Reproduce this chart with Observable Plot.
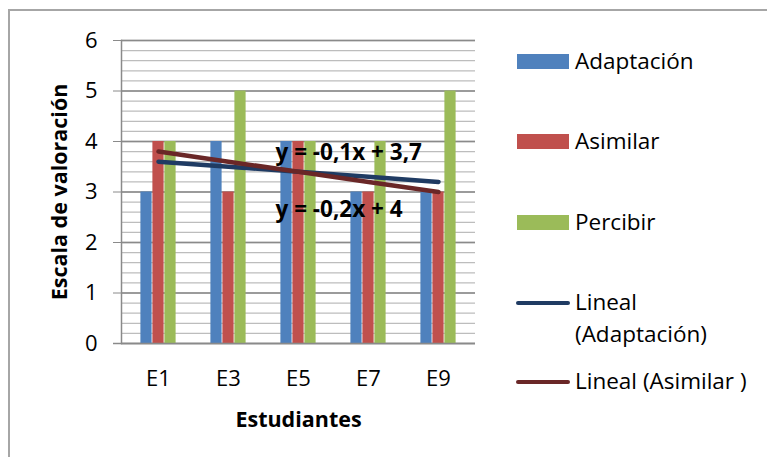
<!DOCTYPE html>
<html>
<head>
<meta charset="utf-8">
<script src="https://cdn.jsdelivr.net/npm/d3@7"></script>
<script src="https://cdn.jsdelivr.net/npm/@observablehq/plot@0.6"></script>
<style>
  html, body { margin: 0; padding: 0; background: #fff; }
  #wrap { position: relative; width: 767px; height: 457px; overflow: hidden; font-family: "Open Sans", sans-serif; }
  #frame { position: absolute; left: 8px; top: 9px; width: 900px; height: 600px; border-left: 2px solid #a6a6a6; border-top: 2px solid #a6a6a6; }
  #chart { position: absolute; left: 0; top: 0; }
  .leg { position: absolute; font-size: 22.5px; color: #000; line-height: 32px; }
  .sw { position: absolute; }
</style>
</head>
<body>
<div id="wrap">
  <div id="frame"></div>
  <div id="chart"></div>
  <div id="legend"></div>
</div>
<script>
// ---- data ----
const categories = ["E1", "E3", "E5", "E7", "E9"];
const adaptacion = [3, 4, 4, 3, 3];
const asimilar   = [4, 3, 4, 3, 3];
const percibir   = [4, 5, 4, 4, 5];
const seriesNames = ["Adaptación", "Asimilar", "Percibir"];
const yTicks = [0, 1, 2, 3, 4, 5, 6];
const trendNames = ["Lineal (Adaptación)", "Lineal (Asimilar )"];
const eqLabels = ["y = -0,1x + 3,7", "y = -0,2x + 4"];
const xTitle = "Estudiantes";
const yTitle = "Escala de valoración";

const colors = ["#4F81BD", "#C0504D", "#9BBB59"];
const trendColors = ["#1F3B63", "#6A2727"];

// linear trend (Excel "Lineal") on x = 1..n
function trend(vals) {
  const xs = vals.map((_, i) => i + 1);
  const mx = d3.mean(xs), my = d3.mean(vals);
  const b = d3.sum(xs.map((x, i) => (x - mx) * (vals[i] - my))) / d3.sum(xs.map(x => (x - mx) ** 2));
  const a = my - b * mx;
  return categories.map((c, i) => ({cat: c, y: a + b * (i + 1)}));
}

const seriesVals = [adaptacion, asimilar, percibir];
const rows = seriesVals.map(vals => categories.map((c, i) => ({cat: c, v: vals[i]})));
const trendA = trend(adaptacion);
const trendS = trend(asimilar);

const W = 767, H = 457;
const mL = 121, mR = 292, mT = 40, mB = 114;
const band = (W - mL - mR) / categories.length;
const barW = 12;
const inset = (band - barW) / 2;

const marks = [
  Plot.ruleY(d3.range(0, 6.0001, 0.2), {stroke: "#bdbdbd", strokeWidth: 1.3}),
  Plot.ruleY(yTicks, {stroke: "#8a8a8a", strokeWidth: 1.4}),
  ...rows.map((r, i) => Plot.barY(r, {
    x: "cat", y: "v", fill: colors[i],
    dx: (i - 1) * barW, insetLeft: inset, insetRight: inset
  })),
  Plot.line(trendA, {x: "cat", y: "y", stroke: trendColors[0], strokeWidth: 4.5, strokeLinecap: "round"}),
  Plot.line(trendS, {x: "cat", y: "y", stroke: trendColors[1], strokeWidth: 4.5, strokeLinecap: "round"}),
  Plot.text([eqLabels[0]], {x: () => categories[2], y: () => 3.77, text: d => d, textAnchor: "start", dx: -23,
    fontWeight: "bold", fontSize: 22.5, fill: "#000"}),
  Plot.text([eqLabels[1]], {x: () => categories[2], y: () => 2.64, text: d => d, textAnchor: "start", dx: -23,
    fontWeight: "bold", fontSize: 22.5, fill: "#000"}),
  Plot.frame({anchor: "left", stroke: "#8a8a8a", strokeWidth: 1.5}),
  Plot.ruleY([0], {stroke: "#8a8a8a", strokeWidth: 1.6, insetLeft: -8}),
  Plot.axisY({ticks: yTicks, tickSize: 8, tickPadding: 16, fontSize: 22, stroke: "#8a8a8a", color: "#000", label: null, tickFormat: d => d}),
  Plot.axisX({tickSize: 0, tickPadding: 27, fontSize: 22, label: null, color: "#000"}),
  Plot.text([xTitle], {frameAnchor: "bottom", dy: 77, lineAnchor: "middle", textAnchor: "middle",
    fontWeight: "bold", fontSize: 21.5, fill: "#000", text: d => d}),
  Plot.text([yTitle], {frameAnchor: "left", dx: -61, rotate: -90, lineAnchor: "middle", textAnchor: "middle",
    fontWeight: "bold", fontSize: 21.5, fill: "#000", text: d => d})
];

const chart = Plot.plot({
  width: W, height: H,
  marginLeft: mL, marginRight: mR, marginTop: mT, marginBottom: mB,
  style: {fontFamily: "'Open Sans', sans-serif", background: "transparent", overflow: "visible"},
  x: {type: "band", domain: categories, padding: 0},
  y: {domain: [0, 6]},
  marks
});
document.getElementById("chart").appendChild(chart);

// ---- legend ----
const legend = document.getElementById("legend");
const legItems = [
  {label: seriesNames[0], type: "rect", color: colors[0], top: 62},
  {label: seriesNames[1], type: "rect", color: colors[1], top: 142},
  {label: seriesNames[2], type: "rect", color: colors[2], top: 223},
  {label: "Lineal<br>(Adaptación)", type: "line", color: trendColors[0], top: 303},
  {label: trendNames[1], type: "line", color: trendColors[1], top: 382}
];
legItems.forEach(it => {
  const sw = document.createElement("div");
  sw.className = "sw";
  if (it.type === "rect") {
    sw.style.cssText = `left:517px;top:${it.top - 8}px;width:52px;height:15px;background:${it.color}`;
  } else {
    sw.style.cssText = `left:516px;top:${it.top - 2}px;width:54px;height:4px;border-radius:2px;background:${it.color}`;
  }
  legend.appendChild(sw);
  const t = document.createElement("div");
  t.className = "leg";
  t.innerHTML = it.label;
  t.style.left = "575px";
  t.style.top = (it.top - 17) + "px";
  legend.appendChild(t);
});
</script>
</body>
</html>
